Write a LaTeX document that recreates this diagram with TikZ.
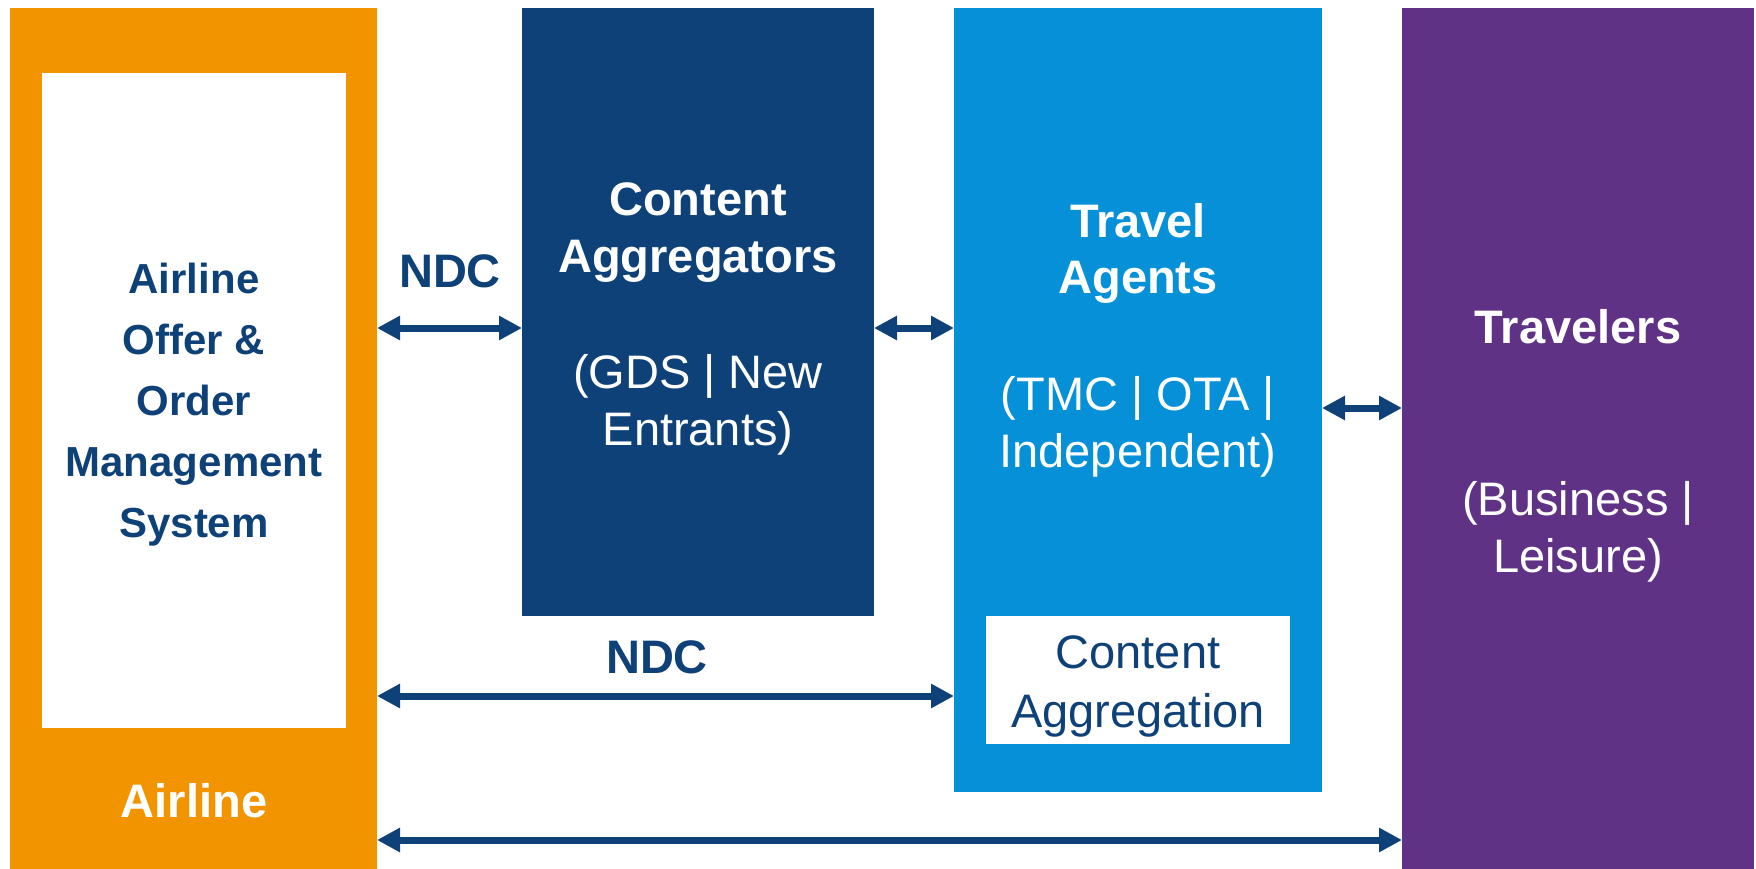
\documentclass[tikz,border=0pt]{standalone}
\usepackage{fontspec}
\setmainfont{Liberation Sans}
\usetikzlibrary{arrows.meta}
\definecolor{cOrange}{HTML}{F29400}
\definecolor{cNavy}{HTML}{0F4179}
\definecolor{cSky}{HTML}{0590D8}
\definecolor{cPurple}{HTML}{5F3286}
\begin{document}
\begin{tikzpicture}[x=1pt,y=-1pt,
  blk/.style={draw=none, inner sep=0pt, outer sep=0pt, anchor=north west},
  big/.style={font=\fontsize{47}{57}\selectfont, inner sep=0pt, anchor=base},
  bigb/.style={font=\fontsize{47}{57}\selectfont\bfseries, inner sep=0pt, anchor=base},
  smallb/.style={font=\fontsize{42}{61}\selectfont\bfseries, inner sep=0pt, anchor=base, text=cNavy},
  link/.style={draw=cNavy, line width=7pt,
    {Triangle[length=23pt,width=23pt]}-{Triangle[length=23pt,width=23pt]}}]
\fill[white] (0,0) rectangle (1756,869);
\useasboundingbox (0,0) rectangle (1756,869);

% boxes
\node[blk, fill=cOrange, minimum width=367pt, minimum height=861pt] (airline) at (10,8) {};
\node[blk, fill=white, minimum width=304pt, minimum height=655pt] (oms) at (42,73) {};
\node[blk, fill=cNavy, minimum width=352pt, minimum height=608pt] (agg) at (522,8) {};
\node[blk, fill=cSky, minimum width=368pt, minimum height=784pt] (agents) at (954,8) {};
\node[blk, fill=white, minimum width=304pt, minimum height=128pt] (cabox) at (986,616) {};
\node[blk, fill=cPurple, minimum width=352pt, minimum height=861pt] (trav) at (1402,8) {};

% arrow levels
\coordinate (ya) at (0,328);
\coordinate (yb) at (0,408);
\coordinate (yc) at (0,696);
\coordinate (yd) at (0,840);

\draw[link] (airline.east |- ya) -- (agg.west |- ya);
\draw[link] (agg.east |- ya) -- (agents.west |- ya);
\draw[link] (agents.east |- yb) -- (trav.west |- yb);
\draw[link] (airline.east |- yc) -- (agents.west |- yc);
\draw[link] (airline.east |- yd) -- (trav.west |- yd);

% texts: airline
\node[smallb] (o1) at (194,293) {Airline};
\node[smallb] (o2) at (194,354) {Offer \&};
\node[smallb] (o3) at (194,415) {Order};
\node[smallb] (o4) at (194,476) {Management};
\node[smallb] (o5) at (194,537) {System};
\node[bigb, text=white] (al) at (194,817) {Airline};

% NDC labels
\node[bigb, text=cNavy] (ndc1) at (450,287) {NDC};
\node[bigb, text=cNavy] (ndc2) at (657,673) {NDC};

% content aggregators
\node[bigb, text=white] (c1) at (698,215) {Content};
\node[bigb, text=white] (c2) at (698,272) {Aggregators};
\node[big, text=white] (c3) at (698,388) {(GDS | New};
\node[big, text=white] (c4) at (698,445) {Entrants)};

% travel agents
\node[bigb, text=white] (t1) at (1138,237) {Travel};
\node[bigb, text=white] (t2) at (1138,293) {Agents};
\node[big, text=white] (t3) at (1138,410) {(TMC | OTA |};
\node[big, text=white] (t4) at (1138,467) {Independent)};
\node[big, text=cNavy] (t5) at (1138,668) {Content};
\node[big, text=cNavy] (t6) at (1138,727) {Aggregation};

% travelers
\node[bigb, text=white] (r1) at (1578,343) {Travelers};
\node[big, text=white] (r2) at (1578,515) {(Business |};
\node[big, text=white] (r3) at (1578,572) {Leisure)};
\end{tikzpicture}
\end{document}
